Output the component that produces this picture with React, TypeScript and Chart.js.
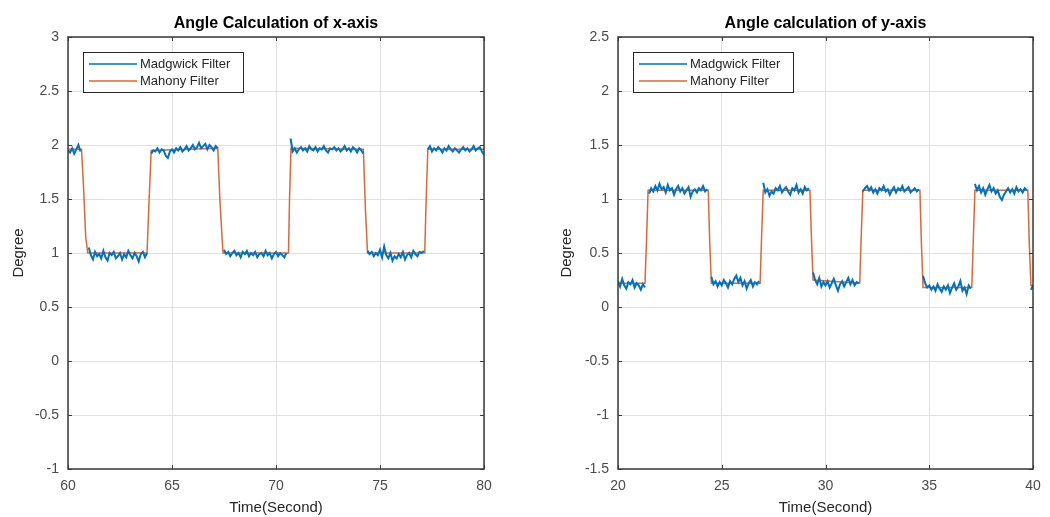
import React, { useEffect, useRef } from 'react';
import { Chart, registerables } from 'chart.js';

Chart.register(...registerables);

// ---------------- data ----------------
const SERIES_LABELS = ['Madgwick Filter', 'Mahony Filter'];
const SERIES_COLORS = ['#0072BD', '#D9693A'];
const SAMPLE_STEP = 0.1;

// Left chart: angle of x-axis
const LEFT_TITLE = 'Angle Calculation of x-axis';
const LEFT_T0 = 60;
const LEFT_X_TICKS = [60, 65, 70, 75, 80];
const LEFT_Y_TICKS = [-1, -0.5, 0, 0.5, 1, 1.5, 2, 2.5, 3];
const LEFT_MADGWICK: (number | null)[] = [
  1.95, 1.93, 1.97, 1.92, 1.96, 2.0, 1.94,
  null, null, null,
  1.05, 0.98, 0.94, 1.01, 0.97, 0.99, 0.95, 1.02, 0.96, 0.93, 1.0, 0.98, 1.01, 0.95, 0.97, 1.0, 0.94, 0.99, 0.96, 1.02, 0.98, 0.95, 1.0, 0.97, 0.92, 0.99, 1.01, 0.96, 1.0,
  null,
  1.92, 1.95, 1.94, 1.97, 1.93, 1.96, 1.95, 1.9, 1.88, 1.94, 1.96, 1.93, 1.97, 1.95, 1.98, 1.94, 1.96, 1.99, 1.95, 1.97, 2.0, 1.96, 1.98, 2.02, 1.97, 1.99, 2.01, 1.96, 2.0, 1.98, 1.95, 1.99, 1.97,
  null, null,
  1.03, 0.99, 1.01, 0.97, 1.0, 1.02, 0.98, 1.0, 0.96, 1.01, 0.99, 1.02, 0.97, 1.0, 0.98, 1.01, 0.96, 0.99, 1.0, 0.97, 1.02, 0.98, 1.0, 0.95, 0.99, 1.01, 0.97, 1.0, 0.98, 0.96, 1.0,
  null,
  2.06, 1.94, 1.97, 1.93, 1.96, 1.98, 1.95, 1.97, 1.94, 1.99, 1.96, 1.95, 1.98, 1.94, 1.97, 1.96, 1.99, 1.95, 1.93, 1.97, 1.96, 1.98, 1.95, 1.97, 1.94, 1.96, 1.99, 1.95, 1.97, 1.94, 1.98, 1.96, 1.93, 1.97, 1.95, 1.92,
  null,
  1.02, 0.99, 1.01, 0.97, 1.0, 0.98, 1.03, 0.96, 1.06, 0.98, 0.95, 1.0, 0.93, 0.97, 0.95, 0.99, 0.96, 1.01, 0.94, 0.98, 1.0, 0.96, 1.02, 0.99, 0.97, 1.01, 1.0, 1.02,
  null,
  1.96, 1.99, 1.94, 1.97, 1.95, 1.98, 1.96, 1.93, 1.97, 1.95, 1.99, 1.96, 1.94, 1.97, 1.95, 1.93, 1.96, 1.98, 1.95, 1.97, 1.94, 1.96, 1.99, 1.95, 1.97, 1.98, 1.94, 1.91,
];
const LEFT_MAHONY_T = [60, 60.65, 60.75, 60.85, 60.95, 63.8, 63.9, 64.0, 67.2, 67.3, 67.45, 70.6, 70.65, 70.72, 74.2, 74.3, 74.4, 77.15, 77.22, 77.3, 80];
const LEFT_MAHONY_V = [1.96, 1.96, 1.6, 1.15, 1.0, 1.0, 1.5, 1.95, 1.97, 1.5, 1.0, 1.0, 1.5, 1.97, 1.96, 1.4, 1.0, 1.0, 1.5, 1.96, 1.96];

// Right chart: angle of y-axis
const RIGHT_TITLE = 'Angle calculation of y-axis';
const RIGHT_T0 = 20;
const RIGHT_X_TICKS = [20, 25, 30, 35, 40];
const RIGHT_Y_TICKS = [-1.5, -1, -0.5, 0, 0.5, 1, 1.5, 2, 2.5];
const RIGHT_MADGWICK: (number | null)[] = [
  0.24, 0.19, 0.26, 0.2, 0.17, 0.23, 0.21, 0.25, 0.18, 0.22, 0.2, 0.16, 0.21, 0.18,
  null,
  1.05, 1.1, 1.07, 1.12, 1.08, 1.14, 1.09, 1.11, 1.06, 1.13, 1.08, 1.1, 1.04, 1.09, 1.12, 1.07, 1.1, 1.05, 1.08, 1.11, 1.02, 1.07, 1.09, 1.06, 1.1, 1.08, 1.12, 1.07, 1.09,
  null,
  0.28, 0.21, 0.24, 0.19, 0.23, 0.2, 0.25, 0.22, 0.18, 0.24, 0.21, 0.26, 0.29, 0.23, 0.27, 0.2, 0.24, 0.17, 0.22, 0.25, 0.19, 0.23, 0.21, 0.24,
  null,
  1.15, 1.06, 1.09, 1.03, 1.07, 1.05, 1.1, 1.08, 1.12, 1.06, 1.09, 1.11, 1.07, 1.04, 1.1, 1.08, 1.13, 1.06, 1.09, 1.05, 1.11, 1.08, 1.1,
  null,
  0.32, 0.25, 0.21, 0.27, 0.19, 0.23, 0.2, 0.24, 0.18, 0.22, 0.26, 0.2, 0.15, 0.21, 0.24, 0.19, 0.23, 0.27, 0.21, 0.25, 0.2, 0.23, 0.22,
  null,
  1.07, 1.1, 1.12, 1.08, 1.11, 1.06, 1.09, 1.05, 1.1, 1.08, 1.12, 1.07, 1.09, 1.04, 1.08, 1.11, 1.06, 1.1, 1.08, 1.12, 1.07, 1.09, 1.11, 1.06, 1.08, 1.1, 1.07, 1.09,
  null,
  0.29, 0.22, 0.18, 0.2, 0.16, 0.19, 0.15, 0.21, 0.17, 0.14, 0.19, 0.16, 0.2, 0.13, 0.18, 0.22, 0.16, 0.19, 0.24, 0.15, 0.18, 0.12, 0.2, 0.17,
  null,
  1.14, 1.08, 1.12, 1.06, 1.1, 1.04, 1.09, 1.13, 1.07, 1.1, 1.05, 1.08, 1.02, 0.99, 1.04, 1.07, 1.1, 1.06, 1.09, 1.05, 1.11, 1.07, 1.09, 1.06, 1.1, 1.08,
  null,
  0.16, 0.2,
];
const RIGHT_MAHONY_T = [20, 21.3, 21.38, 21.45, 24.35, 24.42, 24.5, 26.85, 26.92, 27.0, 29.25, 29.32, 29.4, 31.65, 31.72, 31.8, 34.55, 34.62, 34.7, 37.05, 37.12, 37.2, 39.75, 39.82, 39.9, 40];
const RIGHT_MAHONY_V = [0.22, 0.22, 0.65, 1.08, 1.08, 0.6, 0.22, 0.22, 0.65, 1.08, 1.08, 0.65, 0.25, 0.22, 0.65, 1.08, 1.08, 0.6, 0.18, 0.18, 0.6, 1.08, 1.08, 0.6, 0.2, 0.2];

const X_TITLE = 'Time(Second)';
const Y_TITLE = 'Degree';

// ---------------- chart ----------------
const FONT = '"Liberation Sans", Arial, Helvetica, sans-serif';

const framePlugin = {
  id: 'matlabFrame',
  afterDatasetsDraw(chart: any) {
    const { ctx, chartArea: a, scales } = chart;
    ctx.save();
    ctx.strokeStyle = '#3a3a3a';
    ctx.lineWidth = 1;
    const tl = 4;
    ctx.beginPath();
    scales.x.ticks.forEach((t: any) => {
      const px = Math.round(scales.x.getPixelForValue(t.value)) + 0.5;
      ctx.moveTo(px, a.bottom); ctx.lineTo(px, a.bottom - tl);
      ctx.moveTo(px, a.top); ctx.lineTo(px, a.top + tl);
    });
    scales.y.ticks.forEach((t: any) => {
      const py = Math.round(scales.y.getPixelForValue(t.value)) + 0.5;
      ctx.moveTo(a.left, py); ctx.lineTo(a.left + tl, py);
      ctx.moveTo(a.right, py); ctx.lineTo(a.right - tl, py);
    });
    ctx.stroke();
    ctx.lineWidth = 1.5;
    ctx.strokeRect(a.left, a.top, a.right - a.left, a.bottom - a.top);
    ctx.restore();
  },
  afterDraw(chart: any) {
    const { ctx, chartArea: a } = chart;
    const x = a.left + 15;
    const y = a.top + 15;
    const w = 160;
    const h = 40;
    ctx.save();
    ctx.fillStyle = '#ffffff';
    ctx.fillRect(x, y, w, h);
    ctx.strokeStyle = '#262626';
    ctx.lineWidth = 1;
    ctx.strokeRect(x + 0.5, y + 0.5, w, h);
    ctx.font = `13px ${FONT}`;
    ctx.textBaseline = 'middle';
    chart.data.datasets.forEach((ds: any, i: number) => {
      const ly = y + 12 + i * 17;
      ctx.strokeStyle = ds.borderColor;
      ctx.lineWidth = 1.5;
      ctx.beginPath();
      ctx.moveTo(x + 6, ly);
      ctx.lineTo(x + 54, ly);
      ctx.stroke();
      ctx.fillStyle = '#262626';
      ctx.fillText(ds.label, x + 57, ly);
    });
    ctx.restore();
  },
};

type Spec = {
  title: string;
  t0: number;
  madgwick: (number | null)[];
  mahonyT: number[];
  mahonyV: number[];
  xTicks: number[];
  yTicks: number[];
  yAxisWidth: number;
  yTitlePad: number;
  rightPad: number;
};

function buildConfig(s: Spec): any {
  const madgwickPts = s.madgwick.map((v, i) => ({
    x: Math.round((s.t0 + i * SAMPLE_STEP) * 100) / 100,
    y: v,
  }));
  const mahonyPts = s.mahonyT.map((t, i) => ({ x: t, y: s.mahonyV[i] }));
  return {
    type: 'line',
    data: {
      datasets: [
        {
          label: SERIES_LABELS[0],
          data: madgwickPts,
          borderColor: SERIES_COLORS[0],
          backgroundColor: SERIES_COLORS[0],
          borderWidth: 2,
          pointRadius: 0,
          spanGaps: false,
          tension: 0,
        },
        {
          label: SERIES_LABELS[1],
          data: mahonyPts,
          borderColor: SERIES_COLORS[1],
          backgroundColor: SERIES_COLORS[1],
          borderWidth: 1.5,
          pointRadius: 0,
          tension: 0,
        },
      ],
    },
    options: {
      responsive: false,
      animation: false,
      devicePixelRatio: 1,
      layout: { padding: { left: 0, right: s.rightPad, top: 0, bottom: 0 } },
      plugins: {
        legend: { display: false },
        tooltip: { enabled: false },
        title: {
          display: true,
          text: s.title,
          fullSize: false,
          color: '#000000',
          font: { family: FONT, size: 16, weight: 'bold', lineHeight: 1.2 },
          padding: { top: 13.5, bottom: 4.3 },
        },
      },
      scales: {
        x: {
          type: 'linear',
          min: s.xTicks[0],
          max: s.xTicks[s.xTicks.length - 1],
          afterBuildTicks: (sc: any) => { sc.ticks = s.xTicks.map((v) => ({ value: v })); },
          afterFit: (sc: any) => { sc.height = 48; },
          grid: { color: '#e0e0e0', lineWidth: 1, drawTicks: false },
          border: { display: false },
          ticks: {
            padding: 9,
            color: '#4a4a4a',
            font: { family: FONT, size: 14 },
            callback: (v: any) => String(v),
            maxRotation: 0,
          },
          title: {
            display: true,
            text: X_TITLE,
            color: '#262626',
            font: { family: FONT, size: 15, lineHeight: 1.2 },
            padding: { top: 0, bottom: 0 },
          },
        },
        y: {
          type: 'linear',
          min: s.yTicks[0],
          max: s.yTicks[s.yTicks.length - 1],
          afterBuildTicks: (sc: any) => { sc.ticks = s.yTicks.map((v) => ({ value: v })); },
          afterFit: (sc: any) => { sc.width = s.yAxisWidth; },
          grid: { color: '#e0e0e0', lineWidth: 1, drawTicks: false },
          border: { display: false },
          ticks: {
            padding: 9,
            color: '#4a4a4a',
            font: { family: FONT, size: 14 },
            callback: (v: any) => String(v),
          },
          title: {
            display: true,
            text: Y_TITLE,
            color: '#262626',
            font: { family: FONT, size: 15, lineHeight: 1.2 },
            padding: { top: s.yTitlePad, bottom: 0 },
          },
        },
      },
    },
    plugins: [framePlugin],
  };
}

function Panel({ spec, left }: { spec: Spec; left: number }) {
  const ref = useRef<HTMLCanvasElement | null>(null);
  useEffect(() => {
    if (!ref.current) return;
    const chart = new Chart(ref.current, buildConfig(spec));
    return () => chart.destroy();
  }, [spec]);
  return (
    <div style={{ position: 'absolute', left, top: 0, width: 525, height: 517 }}>
      <canvas ref={ref} width={525} height={517} style={{ display: 'block', width: 525, height: 517 }} />
    </div>
  );
}

const LEFT_SPEC: Spec = {
  title: LEFT_TITLE,
  t0: LEFT_T0,
  madgwick: LEFT_MADGWICK,
  mahonyT: LEFT_MAHONY_T,
  mahonyV: LEFT_MAHONY_V,
  xTicks: LEFT_X_TICKS,
  yTicks: LEFT_Y_TICKS,
  yAxisWidth: 68,
  yTitlePad: 10,
  rightPad: 41,
};

const RIGHT_SPEC: Spec = {
  title: RIGHT_TITLE,
  t0: RIGHT_T0,
  madgwick: RIGHT_MADGWICK,
  mahonyT: RIGHT_MAHONY_T,
  mahonyV: RIGHT_MAHONY_V,
  xTicks: RIGHT_X_TICKS,
  yTicks: RIGHT_Y_TICKS,
  yAxisWidth: 93,
  yTitlePad: 33,
  rightPad: 17,
};

export default function App() {
  return (
    <div style={{ position: 'fixed', left: 0, top: 0, width: 1050, height: 517, background: '#ffffff', overflow: 'hidden' }}>
      <Panel spec={LEFT_SPEC} left={0} />
      <Panel spec={RIGHT_SPEC} left={525} />
    </div>
  );
}
